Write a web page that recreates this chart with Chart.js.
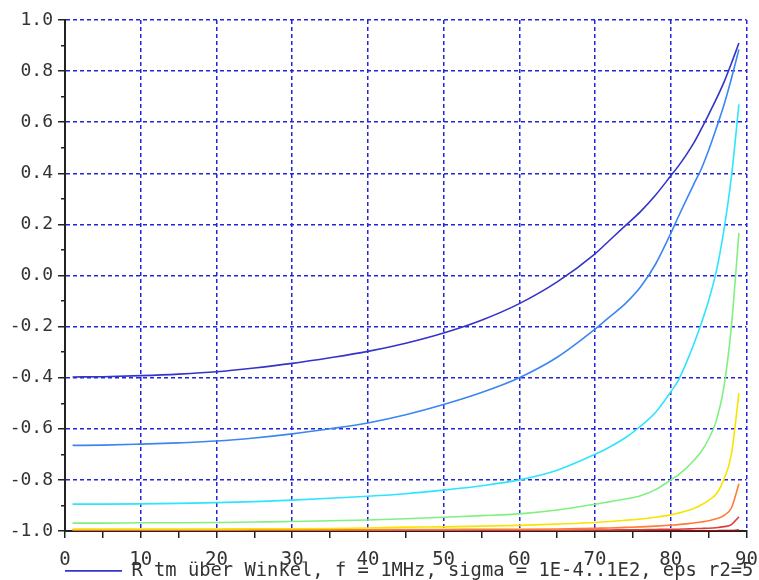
<!DOCTYPE html>
<html>
<head>
<meta charset="utf-8">
<script src="https://cdn.jsdelivr.net/npm/chart.js@4/dist/chart.umd.min.js"></script>
<style>
  body { margin: 0; background: #fff; }
  #wrap { width: 759px; height: 580px; }
</style>
</head>
<body>
<div id="wrap"><canvas id="rtmChart"></canvas></div>
<script>
// Angles (degrees) and R_tm values
const angles = [1, 5, 10, 15, 20, 25, 30, 35, 40, 45, 50, 55, 60, 65, 70, 72, 74, 76, 78, 80, 81, 82, 83, 84, 85, 86, 87, 88, 89];

const sigma1 = [-0.397, -0.396, -0.392, -0.386, -0.377, -0.362, -0.344, -0.322, -0.297, -0.265, -0.225, -0.175, -0.11, -0.025, 0.085, 0.14, 0.195, 0.25, 0.315, 0.39, 0.428, 0.47, 0.517, 0.572, 0.63, 0.69, 0.755, 0.83, 0.91];
const sigma2 = [-0.665, -0.664, -0.66, -0.655, -0.648, -0.636, -0.62, -0.6, -0.577, -0.545, -0.505, -0.458, -0.40, -0.32, -0.21, -0.16, -0.11, -0.045, 0.045, 0.165, 0.23, 0.293, 0.355, 0.415, 0.49, 0.575, 0.665, 0.77, 0.885];
const sigma3 = [-0.895, -0.895, -0.894, -0.892, -0.889, -0.885, -0.879, -0.872, -0.864, -0.854, -0.84, -0.823, -0.80, -0.762, -0.70, -0.67, -0.635, -0.59, -0.535, -0.455, -0.41, -0.345, -0.272, -0.19, -0.098, 0.015, 0.175, 0.385, 0.67];
const sigma4 = [-0.969, -0.969, -0.968, -0.968, -0.967, -0.965, -0.963, -0.96, -0.957, -0.952, -0.946, -0.94, -0.933, -0.918, -0.895, -0.885, -0.875, -0.862, -0.838, -0.80, -0.78, -0.755, -0.725, -0.69, -0.64, -0.57, -0.44, -0.2, 0.167];
const sigma5 = [-0.992, -0.992, -0.992, -0.992, -0.992, -0.991, -0.991, -0.99, -0.988, -0.985, -0.984, -0.981, -0.978, -0.973, -0.967, -0.963, -0.958, -0.953, -0.946, -0.937, -0.93, -0.922, -0.912, -0.898, -0.88, -0.855, -0.80, -0.70, -0.46];
const sigma6 = [-0.996, -0.996, -0.996, -0.996, -0.996, -0.995, -0.995, -0.995, -0.995, -0.994, -0.994, -0.993, -0.993, -0.992, -0.989, -0.988, -0.986, -0.984, -0.981, -0.977, -0.975, -0.972, -0.969, -0.965, -0.96, -0.952, -0.94, -0.91, -0.815];
const sigma7 = [-0.998, -0.998, -0.998, -0.998, -0.998, -0.998, -0.998, -0.998, -0.998, -0.998, -0.997, -0.997, -0.997, -0.997, -0.996, -0.996, -0.995, -0.995, -0.994, -0.993, -0.993, -0.992, -0.991, -0.99, -0.989, -0.987, -0.983, -0.975, -0.944];
const sigma8 = [-0.999, -0.999, -0.999, -0.999, -0.999, -0.999, -0.999, -0.999, -0.999, -0.999, -0.999, -0.999, -0.999, -0.999, -0.999, -0.999, -0.999, -0.999, -0.999, -0.999, -0.999, -0.999, -0.999, -0.999, -0.999, -0.999, -0.998, -0.998, -0.996];

const series = [sigma1, sigma2, sigma3, sigma4, sigma5, sigma6, sigma7, sigma8];
const colors = ['#3434c8', '#3c86f4', '#2ee4ff', '#80f080', '#f8e400', '#ff7c34', '#dc3c3c', '#a00808'];
const legendText = 'R tm über Winkel, f = 1MHz, sigma = 1E-4..1E2, eps r2=5';

const gridBlue = '#2424d8';
const axisColor = '#222';
const mono = 'DejaVu Sans Mono';

const datasets = series.map((vals, i) => ({
    label: i === 0 ? legendText : 'sigma ' + (i + 1),
    data: vals.map((v, j) => ({x: angles[j], y: v})),
    borderColor: colors[i],
    backgroundColor: colors[i],
    borderWidth: 1.6,
    pointRadius: 0,
    cubicInterpolationMode: 'monotone',
    fill: false
}));

// move the legend under the axis, starting at the plot's left edge
const legendPlace = {
    id: 'legendPlace',
    afterLayout(chart) {
        const lg = chart.legend;
        lg.left = chart.chartArea.left;
        lg.right = lg.left + lg.width;
        lg.top = 561.5;
        lg.bottom = lg.top + 19;
    }
};

new Chart(document.getElementById('rtmChart').getContext('2d'), {
    type: 'line',
    data: { datasets: datasets },
    plugins: [legendPlace],
    options: {
        responsive: true,
        maintainAspectRatio: false,
        animation: false,
        layout: { padding: { left: 0, right: 12.5, top: 20, bottom: 0 } },
        plugins: {
            tooltip: { enabled: false },
            legend: {
                position: 'bottom',
                align: 'start',
                maxHeight: 1,
                labels: {
                    filter: item => item.datasetIndex === 0,
                    usePointStyle: true,
                    pointStyle: 'line',
                    pointStyleWidth: 57,
                    padding: 0,
                    color: '#333',
                    font: { family: mono, size: 18.8 }
                }
            }
        },
        scales: {
            x: {
                type: 'linear',
                min: 0,
                max: 90,
                afterFit: s => { s.height = 48; },
                ticks: {
                    stepSize: 5,
                    autoSkip: false,
                    maxRotation: 0,
                    padding: 0,
                    color: '#333',
                    font: { family: mono, size: 19, lineHeight: 2.35 },
                    callback: v => (v % 10 === 0 ? String(v) : '')
                },
                grid: {
                    color: c => (c.tick && c.tick.value % 10 === 0 && c.tick.value !== 0) ? gridBlue : 'rgba(0,0,0,0)',
                    lineWidth: 1.5,
                    tickColor: axisColor,
                    tickWidth: 1.5,
                    tickLength: 7
                },
                border: { display: true, color: axisColor, width: 2, dash: [4, 3] }
            },
            y: {
                min: -1,
                max: 1,
                afterFit: s => { s.width = 65; },
                ticks: {
                    stepSize: 0.1,
                    autoSkip: false,
                    padding: 5,
                    color: '#333',
                    font: { family: mono, size: 18 },
                    callback: v => {
                        const k = Math.round(v * 10);
                        return k % 2 === 0 ? (k / 10).toFixed(1) : '';
                    }
                },
                grid: {
                    color: c => {
                        if (!c.tick) return 'rgba(0,0,0,0)';
                        const k = Math.round(c.tick.value * 10);
                        return (k % 2 === 0 && k !== -10) ? gridBlue : 'rgba(0,0,0,0)';
                    },
                    lineWidth: 1.5,
                    tickColor: axisColor,
                    tickWidth: 1.5,
                    tickLength: 7,
                    tickBorderDash: c => {
                        if (!c.tick) return [];
                        const k = Math.round(c.tick.value * 10);
                        return k % 2 === 0 ? [] : [0, 3, 100];
                    }
                },
                border: { display: true, color: axisColor, width: 2, dash: [4, 3] }
            }
        }
    }
});
</script>
</body>
</html>
